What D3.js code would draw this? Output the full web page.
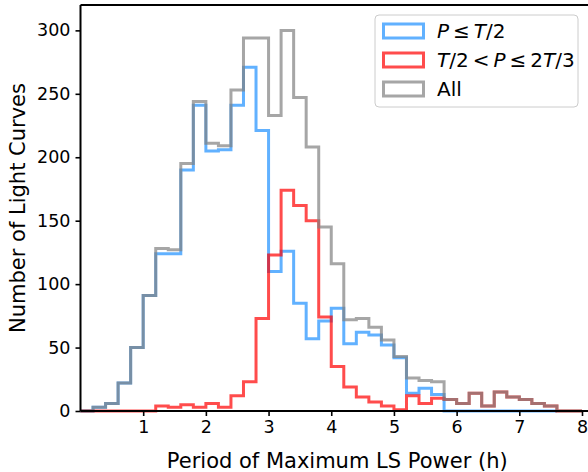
<!DOCTYPE html>
<html>
<head>
<meta charset="utf-8">
<script src="https://cdn.jsdelivr.net/npm/d3@7"></script>
<style>
  body { margin: 0; background: #fff; }
  svg { display: block; font-family: "DejaVu Sans", sans-serif; }
</style>
</head>
<body>
<div id="chart"></div>
<script>
// bin left edges (h), width 0.2
var binEdges = [0.0, 0.2, 0.4, 0.6, 0.8, 1.0, 1.2, 1.4, 1.6, 1.8,
                2.0, 2.2, 2.4, 2.6, 2.8, 3.0, 3.2, 3.4, 3.6, 3.8,
                4.0, 4.2, 4.4, 4.6, 4.8, 5.0, 5.2, 5.4, 5.6, 5.8,
                6.0, 6.2, 6.4, 6.6, 6.8, 7.0, 7.2, 7.4, 7.6, 7.8, 8.0];
// P <= T/2
var countsHalf = [0, 3, 6, 22, 50, 91, 124, 124, 190, 241,
                  205, 206, 241, 271, 221, 110, 126, 85, 57, 71,
                  81, 53, 62, 60, 52, 42, 14, 18, 13, 0,
                  0, 0, 0, 0, 0, 0, 0, 0];
// T/2 < P <= 2T/3
var countsTwoThirds = [0, 0, 0, 0, 0, 0, 4, 3, 5, 3,
                       6, 3, 12, 23, 73, 123, 174, 162, 150, 74,
                       35, 19, 11, 7, 4, 1, 12, 6, 10, 9,
                       6, 14, 4, 15, 11, 9, 6, 4, 0, 0];
// All
var countsAll = [0, 3, 6, 22, 50, 91, 128, 127, 195, 244,
                 211, 209, 253, 294, 294, 233, 300, 247, 208, 145,
                 116, 72, 73, 66, 56, 43, 26, 24, 23, 9,
                 6, 14, 4, 15, 11, 9, 6, 4, 0, 0];

var xTicks = [1, 2, 3, 4, 5, 6, 7, 8];
var yTicks = [0, 50, 100, 150, 200, 250, 300];
var seriesNames = ["half", "twothirds", "all"];

var width = 588, height = 472;
var margin = {left: 80.5, top: 5, bottom: 61};

var svg = d3.select("#chart").append("svg")
    .attr("width", width)
    .attr("height", height);

var x = d3.scaleLinear().domain([0, 8]).range([margin.left, 582]);
var y = d3.scaleLinear().domain([0, 320]).range([height - margin.bottom, margin.top]);

var colors = {half: "dodgerblue", twothirds: "red", all: "gray"};
var series = {half: countsHalf, twothirds: countsTwoThirds, all: countsAll};

// step outline like histtype='step'
function stepPoints(counts) {
    var pts = [[binEdges[0], 0]];
    for (var i = 0; i < counts.length; i++) {
        pts.push([binEdges[i], counts[i]]);
        pts.push([binEdges[i + 1], counts[i]]);
    }
    pts.push([binEdges[counts.length], 0]);
    return pts;
}

var line = d3.line()
    .x(function(d) { return x(d[0]); })
    .y(function(d) { return y(d[1]); });

seriesNames.forEach(function(name) {
    svg.append("path")
        .attr("d", line(stepPoints(series[name])))
        .attr("fill", "none")
        .attr("stroke", colors[name])
        .attr("stroke-opacity", 0.7)
        .attr("stroke-width", 3)
        .attr("stroke-linejoin", "miter");
});

// axes
var xAxis = svg.append("g")
    .attr("transform", "translate(0," + y(0) + ")")
    .call(d3.axisBottom(x).tickValues(xTicks).tickFormat(d3.format("d")).tickSize(5).tickPadding(5).tickSizeOuter(0));
var yAxis = svg.append("g")
    .attr("transform", "translate(" + margin.left + ",0)")
    .call(d3.axisLeft(y).tickValues(yTicks).tickSize(5).tickPadding(5).tickSizeOuter(0));

[xAxis, yAxis].forEach(function(g) {
    g.select(".domain").remove();
    g.selectAll(".tick line").attr("stroke", "#000").attr("stroke-width", 1.6);
    g.selectAll(".tick text")
        .attr("fill", "#000")
        .style("font-family", "DejaVu Sans")
        .style("font-size", "17.5px");
});

// spines: left, bottom, top
svg.append("line").attr("x1", margin.left).attr("x2", margin.left)
    .attr("y1", margin.top).attr("y2", y(0))
    .attr("stroke", "#000").attr("stroke-width", 2);
svg.append("line").attr("x1", margin.left).attr("x2", width)
    .attr("y1", y(0)).attr("y2", y(0))
    .attr("stroke", "#000").attr("stroke-width", 2);
svg.append("line").attr("x1", margin.left).attr("x2", width)
    .attr("y1", margin.top).attr("y2", margin.top)
    .attr("stroke", "#000").attr("stroke-width", 2);

// axis titles
svg.append("text")
    .attr("text-anchor", "middle")
    .attr("x", (margin.left + 582) / 2 + 6)
    .attr("y", 468)
    .style("font-size", "21px")
    .text("Period of Maximum LS Power (h)");

svg.append("text")
    .attr("text-anchor", "middle")
    .attr("transform", "translate(25," + ((margin.top + y(0)) / 2) + ")rotate(-90)")
    .style("font-size", "21px")
    .text("Number of Light Curves");

// legend
var legend = svg.append("g").attr("transform", "translate(375,15)");
legend.append("rect")
    .attr("width", 203).attr("height", 92)
    .attr("rx", 4)
    .attr("fill", "#fff").attr("fill-opacity", 0.8)
    .attr("stroke", "#ccc").attr("stroke-width", 1);

var legendRows = [
    {name: "half", parts: [["P", true], ["\u2009\u2264\u2009", false], ["T", true], ["/2", false]]},
    {name: "twothirds", parts: [["T", true], ["/2\u2009<\u2009", false], ["P", true], ["\u2009\u2264\u20092", false], ["T", true], ["/3", false]]},
    {name: "all", parts: [["All", false]]}
];

legendRows.forEach(function(row, i) {
    var gy = 16 + i * 29;
    legend.append("rect")
        .attr("x", 8.5).attr("y", gy - 7)
        .attr("width", 40).attr("height", 14)
        .attr("fill", "none")
        .attr("stroke", colors[row.name])
        .attr("stroke-opacity", 0.7)
        .attr("stroke-width", 3);
    var t = legend.append("text")
        .attr("x", 62).attr("y", gy + 7)
        .style("font-size", "20px");
    row.parts.forEach(function(p) {
        t.append("tspan")
            .style("font-style", p[1] ? "italic" : "normal")
            .attr("xml:space", "preserve")
            .text(p[0]);
    });
});
</script>
</body>
</html>
